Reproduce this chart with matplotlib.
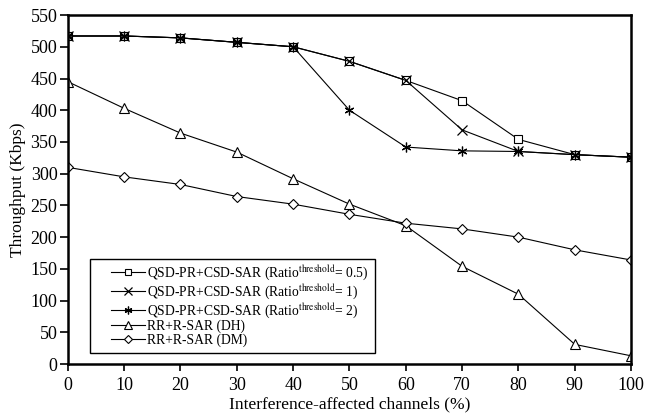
import matplotlib
matplotlib.use("Agg")
from matplotlib import pyplot as plt
from matplotlib.patches import Rectangle
import numpy as np

# -----------------------------------------------
# DATA
channels = [0, 10, 20, 30, 40, 50, 60, 70, 80, 90, 100]
qsd_05 = [517, 517, 514, 507, 500, 477, 447, 415, 354, 330, 326]
qsd_1 = [517, 517, 514, 507, 500, 477, 447, 369, 335, 330, 326]
qsd_2 = [517, 517, 514, 507, 500, 400, 342, 336, 335, 330, 326]
rr_dh = [445, 403, 364, 334, 292, 252, 218, 154, 110, 31, 13]
rr_dm = [310, 295, 283, 264, 252, 236, 222, 213, 200, 180, 164]

labels = [r"QSD-PR+CSD-SAR (Ratio$^{\mathrm{threshold}}$= 0.5)",
          r"QSD-PR+CSD-SAR (Ratio$^{\mathrm{threshold}}$= 1)",
          r"QSD-PR+CSD-SAR (Ratio$^{\mathrm{threshold}}$= 2)",
          "RR+R-SAR (DH)",
          "RR+R-SAR (DM)"]
xticks = list(range(0, 101, 10))
yticks = list(range(0, 551, 50))

# -----------------------------------------------
# STYLE
plt.rcParams['font.family'] = ['Liberation Serif', 'DejaVu Serif']
plt.rcParams['mathtext.fontset'] = 'stix'

fig = plt.figure(figsize=(6.46, 4.18), dpi=100)
ax = fig.add_axes([0.105, 0.129, 0.872, 0.835])

lw = 0.8
ax.plot(channels, qsd_05, color='black', lw=lw, marker='s', ms=5.5,
        mfc='white', mec='black', mew=0.8, label=labels[0])
ax.plot(channels, qsd_1, color='black', lw=lw, marker='x', ms=6.5,
        mec='black', mew=0.9, label=labels[1])
ax.plot(channels, qsd_2, color='black', lw=lw, marker=(6, 2, 0), ms=7,
        mec='black', mew=0.9, label=labels[2])
ax.plot(channels, rr_dh, color='black', lw=lw, marker='^', ms=7,
        mfc='white', mec='black', mew=0.8, label=labels[3])
ax.plot(channels, rr_dm, color='black', lw=lw, marker='D', ms=5.5,
        mfc='white', mec='black', mew=0.8, label=labels[4])

ax.set_xlim(0, 100)
ax.set_ylim(0, 550)
ax.set_xticks(xticks)
ax.set_yticks(yticks)
ax.tick_params(axis='x', direction='out', length=5, width=1.2, pad=4,
               labelsize=13)
ax.tick_params(axis='y', direction='out', length=6, width=1.2, pad=1.5,
               labelsize=13)
for sp in ax.spines.values():
  sp.set_linewidth(1.8)
  sp.set_clip_on(False)

ax.set_xlabel('Interference-affected channels (%)', fontsize=12.5, labelpad=2)
ax.set_ylabel('Throughput (Kbps)', fontsize=12.5, labelpad=3)

# legend without frame, frame drawn afterwards with wider side padding
leg = ax.legend(loc='lower left', bbox_to_anchor=(0.077, 0.05), fontsize=9.8,
                frameon=False, handlelength=2.5, handletextpad=0.15,
                labelspacing=0.0, borderpad=0.0, borderaxespad=0,
                markerscale=0.8)
fig.canvas.draw()
bb = leg.get_window_extent().transformed(fig.transFigure.inverted())
pad_l = 21.0 / 646
pad_r = 6.0 / 646
pad_t = 4.0 / 418
pad_b = 6.0 / 418
frame = Rectangle((bb.x0 - pad_l, bb.y0 - pad_b), bb.width + pad_l + pad_r,
                  bb.height + pad_t + pad_b, transform=fig.transFigure,
                  fill=False, edgecolor='black', lw=1.0, zorder=5)
fig.patches.append(frame)

fig.savefig('out.png', dpi=100)
